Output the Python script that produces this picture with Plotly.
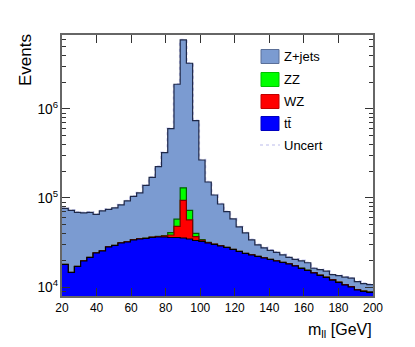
import numpy as np
import plotly.graph_objects as go

# binning of the m_ll histogram
lo, hi, nbins = 20, 200, 50
edges = np.linspace(lo, hi, nbins + 1)

# events per bin
zjets = [58300, 57800, 51700, 48400, 47450, 41160, 46040, 46120, 47930, 52200,
         60500, 70150, 79170, 103130, 134000, 188240, 284900, 559760, 1837200, 5832800,
         3190600, 698600, 233040, 119580, 77800, 56500, 42250, 31600, 22100, 16600,
         10850, 7600, 6230, 5330, 4800, 4010, 3300, 3140, 3440, 3260,
         1750, 2040, 2140, 1650, 2050, 2250, 2450, 2120, 1900, 1840]
zz = [30, 30, 30, 30, 30, 30, 30, 30, 30, 30,
      30, 30, 30, 30, 80, 150, 500, 2350, 9700, 36000,
      15800, 3400, 700, 100, 30, 30, 30, 30, 30, 30,
      30, 30, 30, 30, 30, 30, 30, 30, 30, 30,
      30, 30, 30, 30, 30, 30, 30, 30, 30, 30]
wz = [60, 60, 60, 60, 60, 60, 60, 60, 60, 60,
      150, 200, 200, 250, 300, 400, 950, 2400, 12100, 58700,
      22000, 3400, 1000, 400, 250, 200, 100, 100, 100, 100,
      100, 100, 100, 100, 100, 100, 100, 100, 100, 100,
      100, 100, 100, 100, 100, 100, 100, 100, 100, 100]
ttbar = [17900, 14550, 17000, 19600, 21450, 24100, 25390, 28140, 29260, 31220,
         32030, 33750, 34630, 35070, 35990, 36460, 36460, 35990, 35990, 35520,
         34630, 33320, 32460, 31220, 30030, 28890, 27790, 26390, 25060, 23790,
         22880, 22010, 21180, 20370, 19600, 18850, 18130, 17210, 16140, 15330,
         14370, 13470, 12790, 11980, 11230, 10530, 10000, 9250, 8900, 8680]

# stack: ttbar at the bottom, then WZ, ZZ, Z+jets
c_tt = np.array(ttbar, dtype=float)
c_wz = c_tt + np.array(wz)
c_zz = c_wz + np.array(zz)
c_all = c_zz + np.array(zjets)


def steps(v):
    return list(v) + [v[-1]]


# page body has an 8px margin, so the figure is a bit smaller than the window
W, H = 407, 339
L, R, T, B = 54, 42, 27, 51
# plot frame in window pixels
fx0, fx1, fy0, fy1 = 62, 373, 35, 296


def px(x):
    return (x - fx0) / (fx1 - fx0)


def py(y):
    return (fy1 - y) / (fy1 - fy0)


fig = go.Figure()
fig.add_trace(go.Scatter(x=edges, y=steps(c_all), mode="lines", line_shape="hv",
                         line=dict(color="#c9c9f2", width=2.5, dash="dot"), hoverinfo="skip"))
for vals, fill, edge in [(c_all, "#7b9bd1", "#1e2848"),
                         (c_zz, "#00ff00", "#006000"),
                         (c_wz, "#ff0000", "#7a0000"),
                         (c_tt, "#0000ff", "#000000")]:
    fig.add_trace(go.Scatter(x=edges, y=steps(vals), mode="lines", line_shape="hv",
                             fill="tozeroy", fillcolor=fill,
                             line=dict(color=edge, width=1.2), hoverinfo="skip"))

font = "Liberation Sans, Arial, sans-serif"
fig.update_layout(
    width=W, height=H,
    margin=dict(l=L, r=R, t=T, b=B),
    paper_bgcolor="white", plot_bgcolor="white",
    showlegend=False,
    font=dict(family=font, color="black", size=12),
)
fig.update_xaxes(
    range=[lo, hi], tick0=20, dtick=20, ticks="inside", ticklen=8, tickcolor="#333",
    showline=True, linecolor="#666", linewidth=1.5, mirror="ticks",
    showgrid=False, zeroline=False, tickfont=dict(size=12),
)
fig.update_yaxes(
    type="log", range=[3.899, 6.831], dtick=1, exponentformat="power",
    ticks="inside", ticklen=8, tickcolor="#333",
    minor=dict(ticks="inside", ticklen=4, dtick="D1", tickcolor="#333", showgrid=False),
    showline=True, linecolor="#666", linewidth=1.5, mirror="ticks",
    showgrid=False, zeroline=False, tickfont=dict(size=11),
)

# legend drawn by hand, ROOT style
legend = [("Z+jets", "#7b9bd1", "#5a6f98", 56.5),
          ("ZZ", "#00ff00", "#00c000", 79.5),
          ("WZ", "#ff0000", "#c00000", 101.5),
          ("t\u0074\u0304", "#0000ff", "#0000c0", 123.5)]
for name, fill, edge, yc in legend:
    fig.add_shape(type="rect", xref="paper", yref="paper",
                  x0=px(261), x1=px(279), y0=py(yc - 7), y1=py(yc + 7),
                  fillcolor=fill, line=dict(color=edge, width=1))
    fig.add_annotation(x=px(282), y=py(yc), xref="paper", yref="paper", text=name,
                       showarrow=False, xanchor="left", yanchor="middle",
                       font=dict(size=13))
fig.add_shape(type="line", xref="paper", yref="paper", x0=px(260), x1=px(280),
              y0=py(145), y1=py(145), line=dict(color="#d2d2f2", width=1.5, dash="dot"))
fig.add_annotation(x=px(282), y=py(145), xref="paper", yref="paper", text="Uncert",
                   showarrow=False, xanchor="left", yanchor="middle", font=dict(size=13))

fig.add_annotation(x=px(26), y=py(32), xref="paper", yref="paper", text="Events",
                   textangle=-90, showarrow=False, xanchor="center", yanchor="top",
                   font=dict(size=17))
fig.add_annotation(x=px(374), y=py(330), xref="paper", yref="paper",
                   text="m<sub>ll</sub> [GeV]", showarrow=False,
                   xanchor="right", yanchor="middle", font=dict(size=16))

fig.write_html("out.html")
